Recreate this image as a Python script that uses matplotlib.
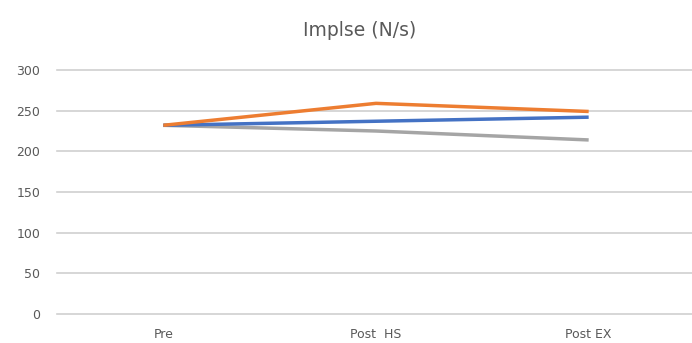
import matplotlib.pyplot as plt

categories = ["Pre", "Post  HS", "Post EX"]
series_blue = [232, 237, 242]
series_orange = [232, 259, 249]
series_gray = [232, 225, 214]
yticks = [0, 50, 100, 150, 200, 250, 300]

fig = plt.figure(figsize=(6.92, 3.43), dpi=100)
ax = fig.add_axes([57 / 692, 29 / 343, 638 / 692, 244 / 343])

x = range(len(categories))
ax.plot(x, series_gray, color="#A5A5A5", lw=2.5, solid_capstyle="butt", zorder=3)
ax.plot(x, series_blue, color="#4472C4", lw=2.5, solid_capstyle="butt", zorder=4)
ax.plot(x, series_orange, color="#ED7D31", lw=2.5, solid_capstyle="butt", zorder=5)

ax.set_xlim(-0.5, 2.5)
ax.set_ylim(0, 300)
ax.set_yticks(yticks)
ax.set_xticks(list(x))
ax.set_xticklabels(categories)
ax.grid(axis="y", color="#D0D0D0", lw=1.2)
ax.set_axisbelow(True)
for gl in ax.get_ygridlines():
    gl.set_clip_on(False)
for s in ax.spines.values():
    s.set_visible(False)
ax.tick_params(length=0, colors="#595959", labelsize=9)
ax.tick_params(axis="y", pad=12)
ax.tick_params(axis="x", pad=10)

fig.text(0.52, 0.91, "Implse (N/s)", ha="center", va="center", fontsize=13.5, color="#595959")

fig.savefig("out.png", dpi=100)
